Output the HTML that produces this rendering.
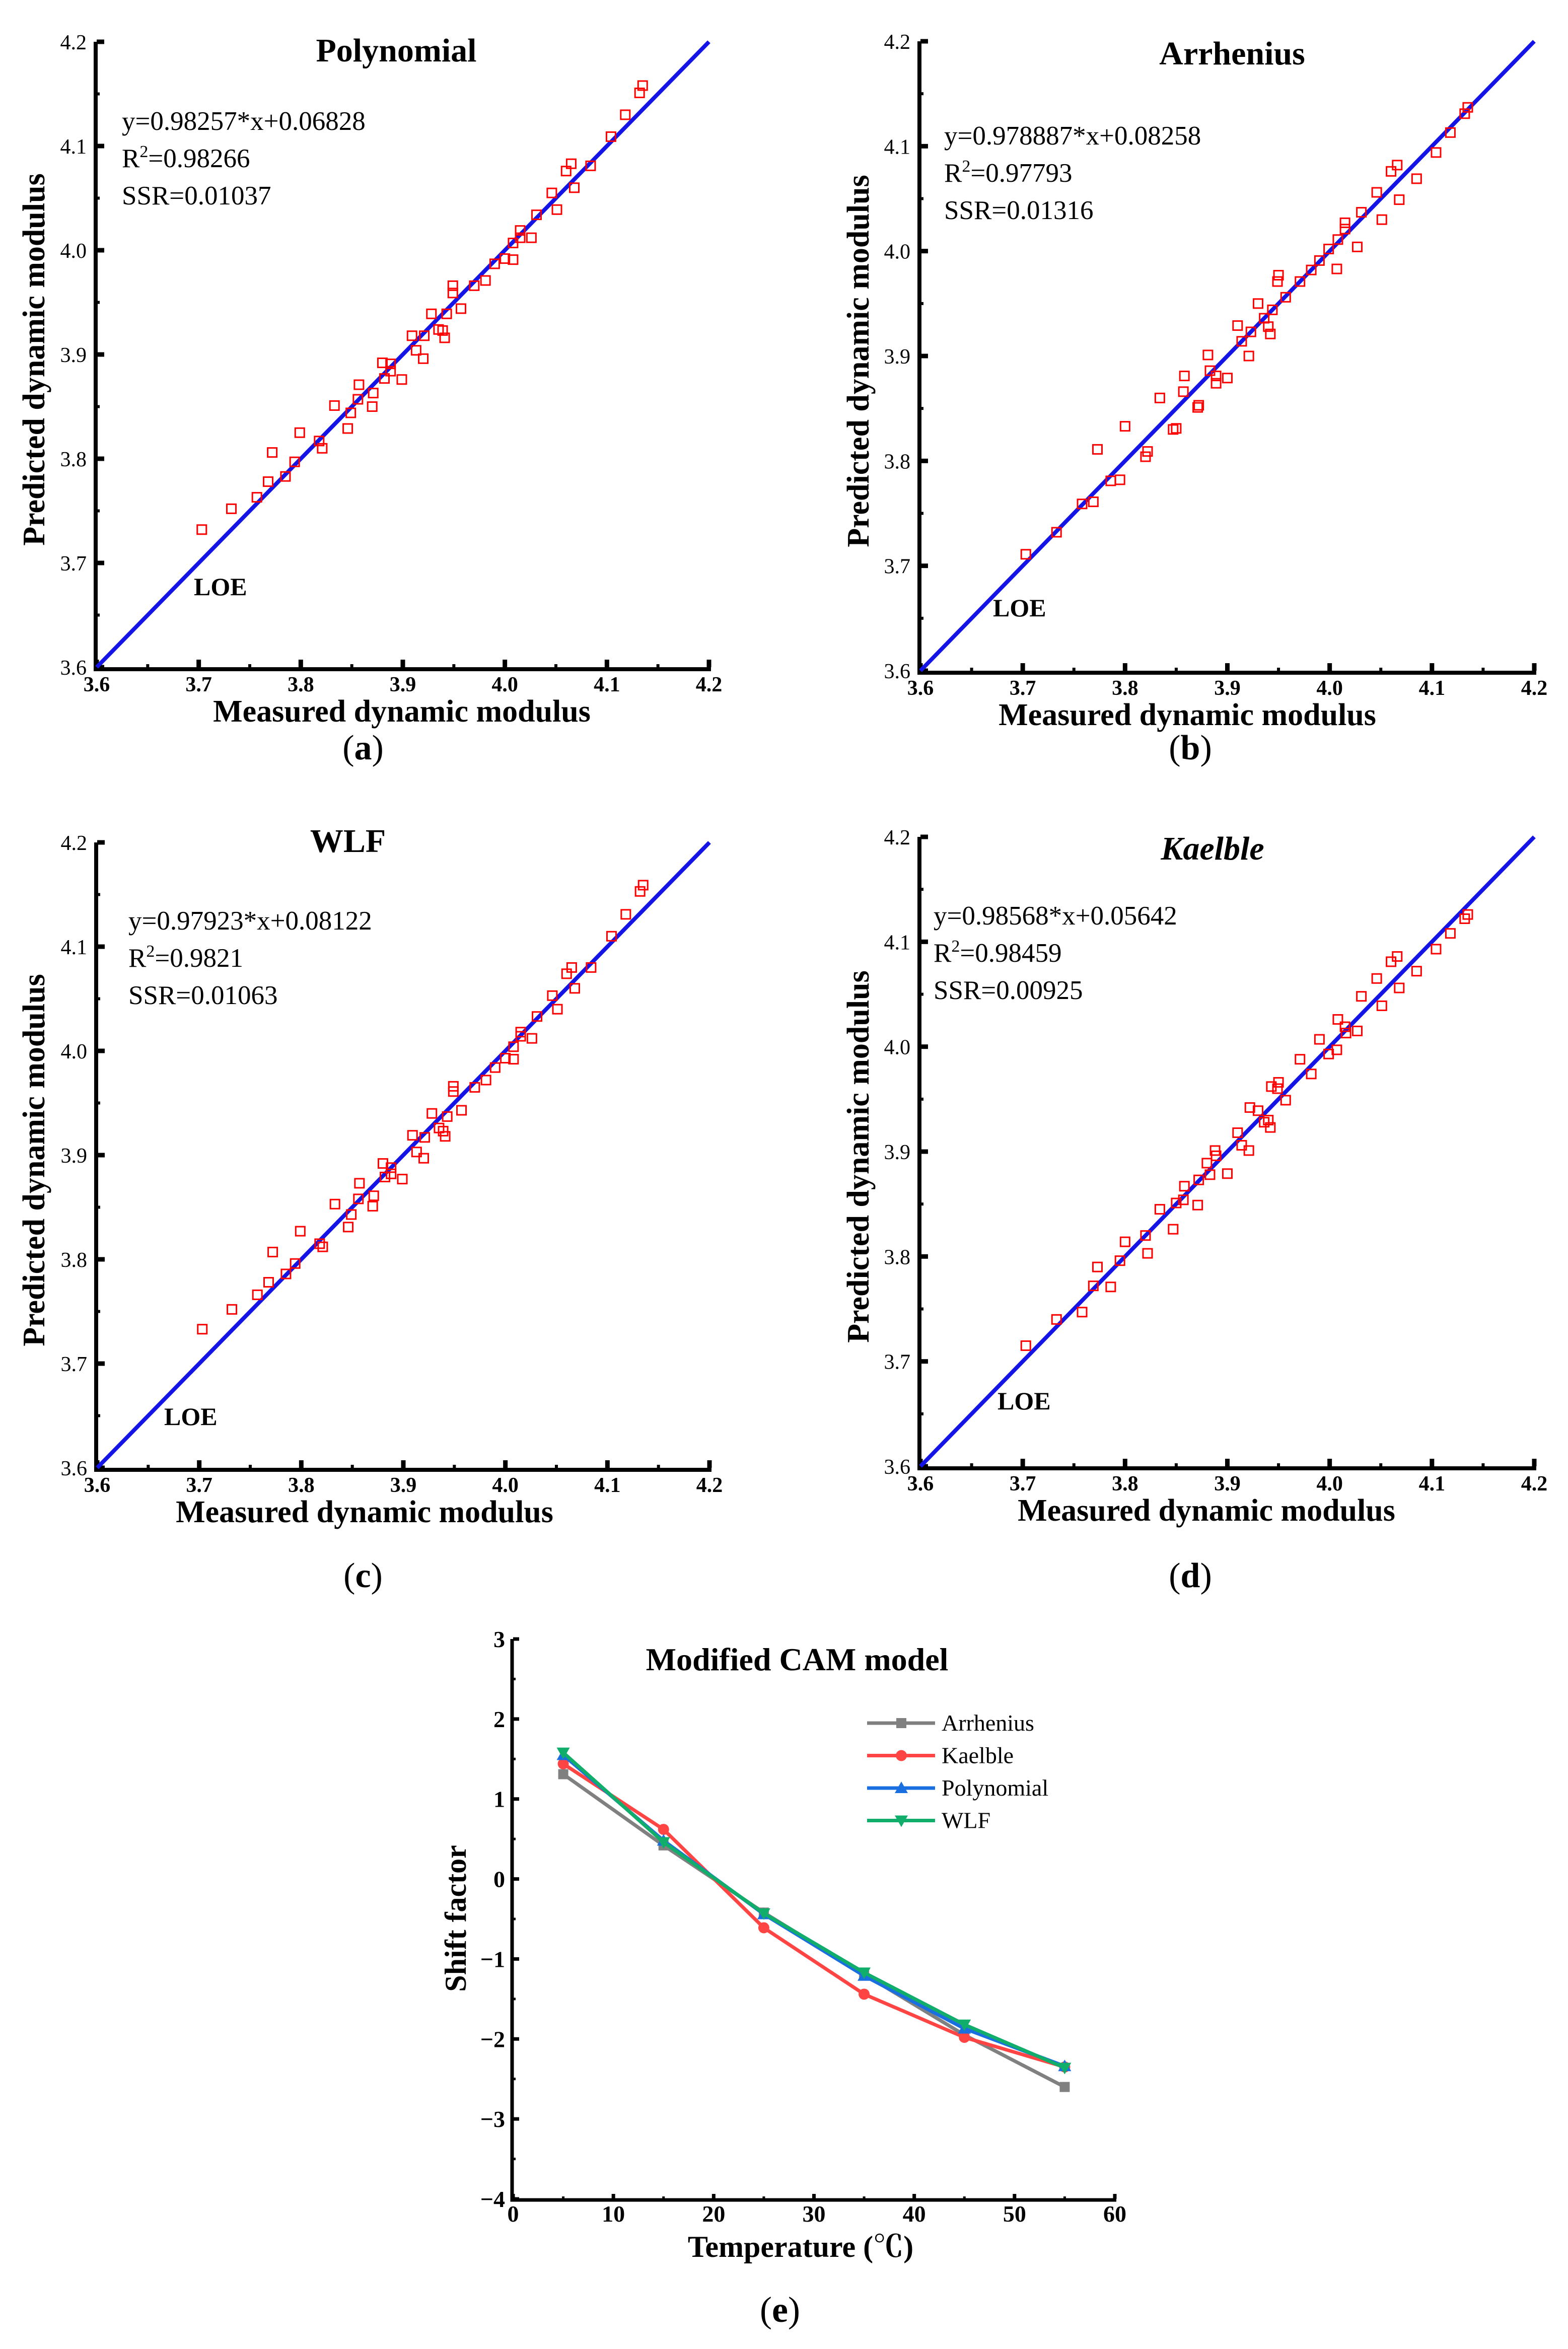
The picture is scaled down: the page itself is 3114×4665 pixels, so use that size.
<!DOCTYPE html>
<html><head><meta charset="utf-8"><style>
html,body{margin:0;padding:0;background:#fff;}
svg{display:block;}
text{font-family:"Liberation Serif",serif;}
</style></head><body>
<svg id="fig" width="3114" height="4665" viewBox="0 0 3114 4665" xmlns="http://www.w3.org/2000/svg"></svg>
<script>
// ---------- Data: scatter panels ----------
const polyMeasured=[3.703,3.732,3.757,3.768,3.772,3.785,3.794,3.799,3.818,3.821,3.833,3.846,3.849,3.857,3.856,3.870,3.871,3.880,3.882,3.888,3.888,3.899,3.909,3.913,3.920,3.921,3.928,3.935,3.939,3.941,3.943,3.949,3.949,3.957,3.970,3.981,3.990,4.000,4.008,4.008,4.015,4.015,4.026,4.031,4.046,4.051,4.060,4.065,4.068,4.084,4.104,4.118,4.132,4.135];
const polyPredicted=[3.732,3.752,3.763,3.778,3.806,3.783,3.797,3.825,3.817,3.810,3.851,3.829,3.844,3.871,3.857,3.850,3.863,3.892,3.877,3.891,3.884,3.876,3.918,3.904,3.896,3.918,3.939,3.924,3.923,3.916,3.939,3.959,3.966,3.944,3.966,3.971,3.987,3.992,3.991,4.007,4.012,4.019,4.012,4.034,4.055,4.039,4.076,4.083,4.060,4.081,4.109,4.130,4.151,4.158];
const arrMeasured=[3.703,3.733,3.758,3.769,3.773,3.786,3.795,3.800,3.820,3.822,3.834,3.847,3.850,3.858,3.857,3.871,3.872,3.881,3.883,3.889,3.889,3.900,3.910,3.914,3.921,3.923,3.930,3.936,3.940,3.942,3.944,3.950,3.949,3.957,3.971,3.982,3.990,3.999,4.007,4.008,4.015,4.015,4.027,4.031,4.046,4.051,4.060,4.066,4.068,4.085,4.104,4.118,4.132,4.135];
const arrPredicted=[3.711,3.732,3.759,3.761,3.811,3.781,3.782,3.833,3.804,3.809,3.860,3.830,3.831,3.881,3.866,3.851,3.853,3.901,3.886,3.881,3.874,3.879,3.929,3.914,3.900,3.923,3.950,3.936,3.928,3.921,3.944,3.977,3.971,3.956,3.971,3.982,3.991,4.002,3.983,4.011,4.027,4.021,4.004,4.037,4.056,4.030,4.076,4.082,4.049,4.069,4.094,4.113,4.131,4.137];
const wlfMeasured=[3.703,3.732,3.757,3.768,3.772,3.785,3.794,3.799,3.818,3.821,3.833,3.846,3.849,3.857,3.856,3.870,3.871,3.880,3.882,3.888,3.888,3.899,3.909,3.913,3.920,3.921,3.928,3.935,3.939,3.941,3.943,3.949,3.949,3.957,3.970,3.981,3.990,4.000,4.008,4.008,4.015,4.015,4.026,4.031,4.046,4.051,4.060,4.065,4.068,4.084,4.104,4.118,4.132,4.135];
const wlfPredicted=[3.733,3.752,3.766,3.778,3.807,3.786,3.796,3.827,3.815,3.812,3.853,3.831,3.843,3.873,3.858,3.851,3.861,3.892,3.879,3.888,3.882,3.877,3.919,3.903,3.897,3.917,3.940,3.926,3.923,3.918,3.937,3.961,3.966,3.943,3.965,3.972,3.984,3.993,3.992,4.004,4.014,4.018,4.012,4.033,4.053,4.040,4.074,4.080,4.060,4.080,4.110,4.131,4.153,4.159];
const kaeMeasured=[3.703,3.733,3.758,3.769,3.773,3.786,3.795,3.800,3.820,3.822,3.834,3.847,3.850,3.858,3.857,3.871,3.872,3.880,3.883,3.888,3.889,3.900,3.910,3.914,3.921,3.922,3.930,3.936,3.940,3.942,3.943,3.950,3.949,3.957,3.971,3.982,3.990,3.999,4.007,4.008,4.015,4.016,4.027,4.031,4.046,4.051,4.060,4.066,4.068,4.085,4.104,4.118,4.132,4.135];
const kaePredicted=[3.715,3.740,3.747,3.772,3.790,3.771,3.796,3.814,3.820,3.803,3.845,3.826,3.851,3.867,3.854,3.849,3.873,3.889,3.878,3.901,3.896,3.879,3.918,3.906,3.901,3.942,3.939,3.928,3.930,3.923,3.962,3.966,3.960,3.949,3.988,3.974,4.007,3.993,3.997,4.026,4.019,4.013,4.015,4.048,4.065,4.039,4.081,4.086,4.056,4.072,4.093,4.108,4.122,4.126];
const axisTicks=[3.6,3.7,3.8,3.9,4.0,4.1,4.2];
const axisTickLabels=["3.6","3.7","3.8","3.9","4.0","4.1","4.2"];

// ---------- Data: shift factor chart ----------
const temps=[5,15,25,35,45,55];
const arrShift=[1.31,0.42,-0.42,-1.19,-1.95,-2.60];
const kaeShift=[1.44,0.62,-0.61,-1.44,-1.98,-2.35];
const polyShift=[1.55,0.48,-0.44,-1.21,-1.87,-2.34];
const wlfShift=[1.58,0.46,-0.43,-1.17,-1.82,-2.36];
const eXTicks=[0,10,20,30,40,50,60];
const eYTicks=[3,2,1,0,-1,-2,-3,-4];
const eYTickLabels=["3","2","1","0","\u22121","\u22122","\u22123","\u22124"];

const NS="http://www.w3.org/2000/svg";
const svg=document.getElementById('fig');
function mk(tag,attrs,parent,txt){const e=document.createElementNS(NS,tag);for(const k in attrs)e.setAttribute(k,attrs[k]);if(txt!==undefined)e.textContent=txt;(parent||svg).appendChild(e);return e;}

function scatterPanel(cfg){
  const g=mk('g',{});
  
  
  const sx=v=>cfg.x0+(v-3.6)/0.6*(cfg.x1-cfg.x0);
  const sy=v=>cfg.y0-(v-3.6)/0.6*(cfg.y0-cfg.y1);
  const ax=mk('path',{d:`M${cfg.x0-2},${cfg.y1} L${cfg.x0-2},${cfg.y0+4} L${cfg.x1+4},${cfg.y0+4}`,fill:'none',stroke:'#000','stroke-width':8},g);
  
  
  for(let i=0;i<=12;i++){
    const v=3.6+i*0.05;const major=i%2===0;const L=major?15:6;
    const tx=mk('line',{x1:sx(v),x2:sx(v),y1:cfg.y0,y2:cfg.y0-L,stroke:'#000','stroke-width':major?9:6},g);
    
    
    const ty=mk('line',{x1:cfg.x0,x2:cfg.x0+L,y1:sy(v),y2:sy(v),stroke:'#000','stroke-width':major?9:6},g);
    
    
  }
  axisTicks.forEach((v,i)=>{
    const t=mk('text',{x:sx(v),y:cfg.y0+48,'text-anchor':'middle','font-size':42,'font-weight':'bold'},g,axisTickLabels[i]);
    
    
    const t2=mk('text',{x:cfg.x0-20,y:sy(v)+15,'text-anchor':'end','font-size':42},g,axisTickLabels[i]);
    
    
  });
  const loe=mk('line',{x1:sx(3.6),y1:sy(3.6),x2:sx(4.2),y2:sy(4.2),stroke:'#1414e6','stroke-width':8},g);
  
  
  cfg.mx.forEach((m,i)=>{
    const p=mk('rect',{x:sx(m)-9,y:sy(cfg.py[i])-9,width:18,height:18,fill:'none',stroke:'#ff0000','stroke-width':3},g);
    
    
  });
  const tt=mk('text',{x:cfg.titleX,y:cfg.titleY,'text-anchor':'middle','font-size':66,'font-weight':'bold','font-style':cfg.italic?'italic':'normal'},g,cfg.title);
  
  
  const e1=mk('text',{x:cfg.eqX,y:cfg.eqY,'font-size':53},g,cfg.eq);
  
  
  const e2=mk('text',{x:cfg.eqX,y:cfg.eqY+74,'font-size':53},g);
  
  
  mk('tspan',{},e2,'R');mk('tspan',{dy:-20,'font-size':34},e2,'2');mk('tspan',{dy:20},e2,'='+cfg.r2);
  const e3=mk('text',{x:cfg.eqX,y:cfg.eqY+148,'font-size':53},g,'SSR='+cfg.ssr);
  
  
  const lo=mk('text',{x:cfg.loeX,y:cfg.loeY,'font-size':50,'font-weight':'bold'},g,'LOE');
  
  
  const xt=mk('text',{x:cfg.xtX,y:cfg.y0+108,'text-anchor':'middle','font-size':62,'font-weight':'bold'},g,'Measured dynamic modulus');
  
  
  const yc=(cfg.y0+cfg.y1)/2+10;
  const yt=mk('text',{x:cfg.ytX,y:yc,'text-anchor':'middle','font-size':62,'font-weight':'bold',transform:`rotate(-90 ${cfg.ytX} ${yc})`},g,'Predicted dynamic modulus');
  
  
  const pl=mk('text',{x:cfg.labX,y:cfg.labY,'text-anchor':'middle','font-size':70},g);
  
  
  mk('tspan',{},pl,'(');mk('tspan',{'font-weight':'bold'},pl,cfg.lab);mk('tspan',{},pl,')');
}

scatterPanel({name:'polynomial',x0:192,x1:1408,y0:1325,y1:83,mx:polyMeasured,py:polyPredicted,title:'Polynomial',titleX:787,titleY:122,eq:'y=0.98257*x+0.06828',r2:'0.98266',ssr:'0.01037',eqX:242,eqY:258,loeX:385,loeY:1182,xtX:798,ytX:88,labX:721,labY:1508,lab:'a'});
scatterPanel({name:'arrhenius',x0:1828,x1:3047,y0:1332,y1:82,mx:arrMeasured,py:arrPredicted,title:'Arrhenius',titleX:2447,titleY:128,eq:'y=0.978887*x+0.08258',r2:'0.97793',ssr:'0.01316',eqX:1875,eqY:287,loeX:1972,loeY:1224,xtX:2358,ytX:1725,labX:2364,labY:1508,lab:'b'});
scatterPanel({name:'wlf',x0:193,x1:1409,y0:2915,y1:1673,mx:wlfMeasured,py:wlfPredicted,title:'WLF',titleX:691,titleY:1692,eq:'y=0.97923*x+0.08122',r2:'0.9821',ssr:'0.01063',eqX:255,eqY:1846,loeX:326,loeY:2830,xtX:724,ytX:88,labX:721,labY:3152,lab:'c'});
scatterPanel({name:'kaelble',x0:1828,x1:3047,y0:2912,y1:1662,mx:kaeMeasured,py:kaePredicted,title:'Kaelble',titleX:2408,titleY:1707,italic:true,eq:'y=0.98568*x+0.05642',r2:'0.98459',ssr:'0.00925',eqX:1854,eqY:1836,loeX:1981,loeY:2799,xtX:2396,ytX:1725,labX:2364,labY:3152,lab:'d'});

// ---------- Panel e ----------
(function(){
  const g=mk('g',{});
  
  
  const X0=1019,X1=2214,Y0=4367,Y1=3255;
  const sx=v=>X0+(v-0)/60*(X1-X0);
  const sy=v=>Y0-(v+4)/7*(Y0-Y1);
  const ax=mk('path',{d:`M${X0-2},${Y1} L${X0-2},${Y0+2} L${X1+3},${Y0+2}`,fill:'none',stroke:'#000','stroke-width':7},g);
  
  
  for(let i=0;i<=12;i++){const v=i*5;const major=i%2===0;
    const t=mk('line',{x1:sx(v),x2:sx(v),y1:Y0,y2:Y0-(major?10:5),stroke:'#000','stroke-width':major?7:5},g);
    
    }
  for(let i=0;i<=14;i++){const v=-4+i*0.5;const major=i%2===0;
    const t=mk('line',{x1:X0,x2:X0+(major?12:5),y1:sy(v),y2:sy(v),stroke:'#000','stroke-width':major?7:5},g);
    
    }
  eXTicks.forEach(v=>{const t=mk('text',{x:sx(v),y:4412,'text-anchor':'middle','font-size':46,'font-weight':'bold'},g,String(v));
    
    });
  eYTicks.forEach((v,i)=>{const t=mk('text',{x:1003,y:sy(v)+16,'text-anchor':'end','font-size':46,'font-weight':'bold'},g,eYTickLabels[i]);
    
    });
  const series=[
    {n:'arrhenius',label:'Arrhenius',c:'#808080',d:arrShift,m:'square'},
    {n:'kaelble',label:'Kaelble',c:'#ff4444',d:kaeShift,m:'circle'},
    {n:'polynomial',label:'Polynomial',c:'#1a6fe0',d:polyShift,m:'up'},
    {n:'wlf',label:'WLF',c:'#11ad6b',d:wlfShift,m:'down'}];
  function marker(m,x,y,c,par){let e;
    if(m==='square')e=mk('rect',{x:x-10,y:y-10,width:20,height:20,fill:c},par);
    else if(m==='circle')e=mk('circle',{cx:x,cy:y,r:11,fill:c},par);
    else if(m==='up')e=mk('polygon',{points:`${x},${y-13} ${x-13},${y+10} ${x+13},${y+10}`,fill:c},par);
    else e=mk('polygon',{points:`${x},${y+13} ${x-13},${y-10} ${x+13},${y-10}`,fill:c},par);
    return e;}
  series.forEach((s,k)=>{
    const sg=mk('g',{},g);
    
    
    const pts=temps.map((t,i)=>sx(t)+','+sy(s.d[i])).join(' ');
    const pl=mk('polyline',{points:pts,fill:'none',stroke:s.c,'stroke-width':7,'stroke-linejoin':'round'},sg);
    
    
    temps.forEach((t,i)=>{const mm=marker(s.m,sx(t),sy(s.d[i]),s.c,sg);
      
      });
    const ly=3437+k*64.5;
    const lg=mk('g',{},g);
    
    
    mk('line',{x1:1722,x2:1857,y1:ly-15,y2:ly-15,stroke:s.c,'stroke-width':7},lg);
    marker(s.m,1790,ly-15,s.c,lg);
    mk('text',{x:1870,y:ly,'font-size':46},lg,s.label);
  });
  const tt=mk('text',{x:1583,y:3317,'text-anchor':'middle','font-size':64,'font-weight':'bold'},g,'Modified CAM model');
  
  
  const xt=mk('text',{x:1590,y:4482,'text-anchor':'middle','font-size':60,'font-weight':'bold'},g);
  
  
  mk('tspan',{},xt,'Temperature (');
  mk('tspan',{'font-family':'"Noto Serif CJK SC","Noto Sans CJK SC",serif'},xt,'\u2103');
  mk('tspan',{},xt,')');
  const yt=mk('text',{x:925,y:3810,'text-anchor':'middle','font-size':60,'font-weight':'bold',transform:'rotate(-90 925 3810)'},g,'Shift factor');
  
  
  const pl=mk('text',{x:1549,y:4611,'text-anchor':'middle','font-size':72},g);
  
  
  mk('tspan',{},pl,'(');mk('tspan',{'font-weight':'bold'},pl,'e');mk('tspan',{},pl,')');
})();
</script>
</body></html>
